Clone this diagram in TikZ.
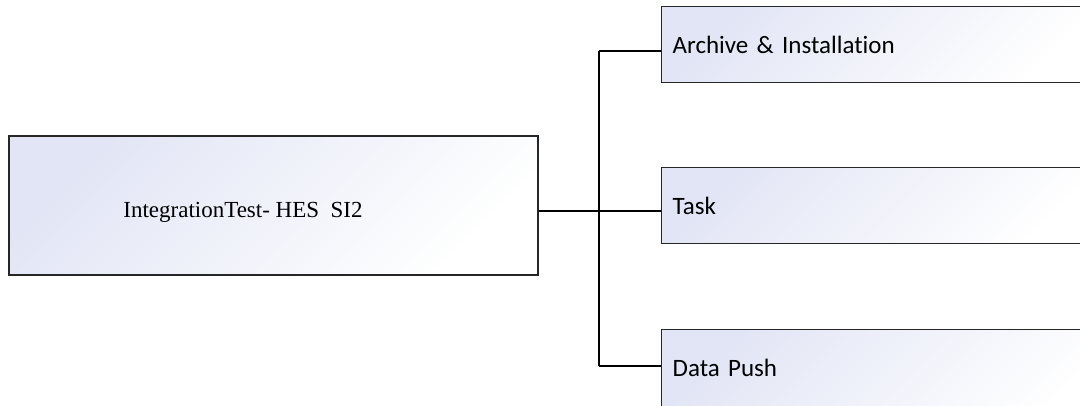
\documentclass[tikz,border=0pt]{standalone}
\usepackage{fontspec}
\setmainfont{Liberation Serif}
\newfontfamily\calibri[Ligatures=NoCommon]{Carlito}
\usepackage{tikz}
\usetikzlibrary{
  positioning,
  calc
}
\definecolor{lavanda}{RGB}{226,229,245}

\begin{document}
\begin{tikzpicture}[
      x=1pt, y=1pt,
      caixa/.style={draw=black!85, line width=1.3pt, top color=lavanda, bottom color=white, shading angle=45},
      ramo/.style={caixa, anchor=north west, text width=418pt, align=left, inner xsep=11pt, inner ysep=0pt, text height=47pt, text depth=29pt, font=\calibri\fontsize{25}{30}\selectfont},
      liga/.style={line width=1.6pt, black}
  ]
      \useasboundingbox (0,0) rectangle (1080,-405);
      \clip (0,0) rectangle (1080,-405);

      % Caixa principal
      \node[caixa, minimum width=529pt, minimum height=139pt] (main) at (273.5,-205.5) {};
      \node[font=\fontsize{23}{28}\selectfont, anchor=base] (mainlbl) at (243,-217) {IntegrationTest- HES\ \ SI2};

      % Ramos
      \node[ramo] (arq) at (661,-6) {Archive \& Installation};
      \node[ramo] (tarefa) at (661,-167) {Task};
      \node[ramo, text depth=60pt] (push) at (661,-329) {Data Push};

      % Ligacoes
      \coordinate (saida) at ($(main.east)+(0,-5.5)$);
      \coordinate (barra1) at (599,-51);
      \coordinate (barra2) at (599,-366);
      \draw[liga] (saida) -- (saida -| tarefa.west);
      \draw[liga] (barra1) -- (barra2);
      \draw[liga] (barra1) -- (barra1 -| arq.west);
      \draw[liga] (barra2) -- (barra2 -| push.west);
  \end{tikzpicture}
\end{document}
